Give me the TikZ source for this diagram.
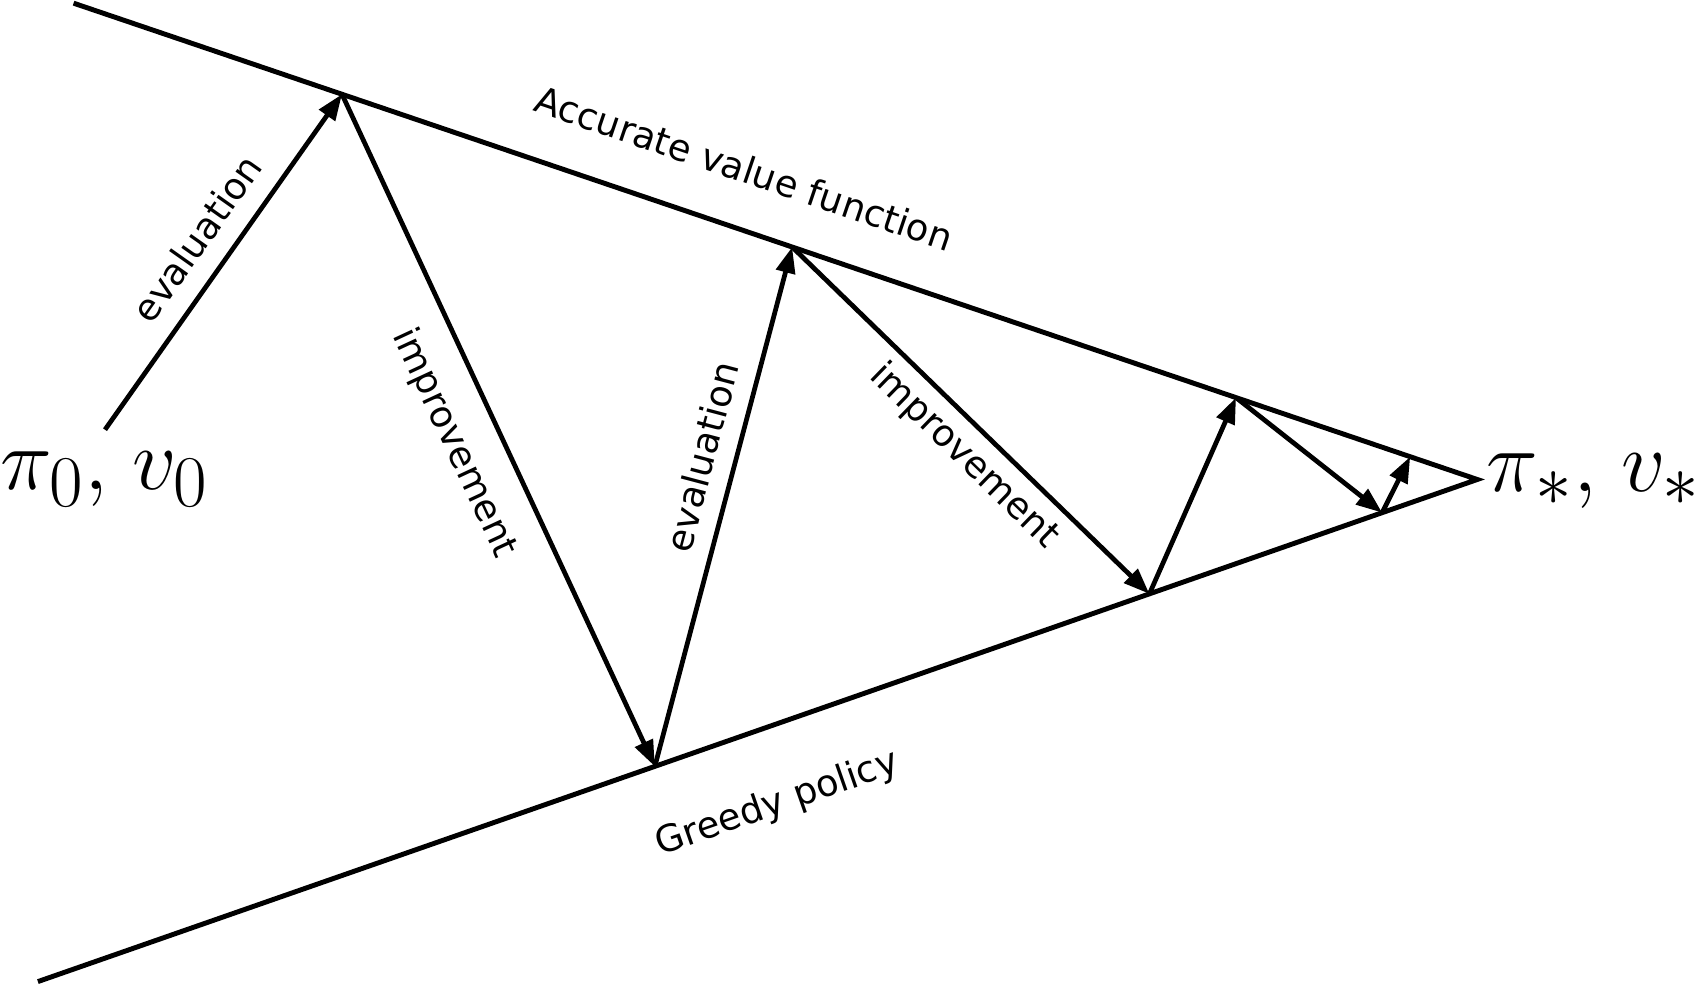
\documentclass[tikz,border=0pt]{standalone}
\usepackage{amsmath}
\usepackage{fontspec}
\newfontfamily\labelfont{DejaVu Sans}
\DeclareMathSizes{30}{30}{22}{16}
\usepackage{tikz}
\usetikzlibrary{calc, arrows.meta}
\tikzstyle{bound} = [line width=1.4pt]
\tikzstyle{move} = [line width=1.35pt, -{Triangle[length=2.6mm, width=1.9mm]}]
\tikzstyle{lbl} = [font=\labelfont\fontsize{10.5}{12}\selectfont, inner sep=0pt]
\tikzstyle{pilbl} = [font=\fontsize{30}{33}\selectfont, inner sep=0pt, anchor=base west]

\begin{document}
\begin{tikzpicture}
        \useasboundingbox (0, 0) rectangle (16.97, 9.85);

        % the two bounding lines meeting at the optimum
        \coordinate (U0) at (0.736, 9.818);
        \coordinate (L0) at (0.379, 0.034);
        \coordinate (A) at (14.773, 5.055);
        \coordinate (S) at (1.050, 5.553);

        \coordinate (P1) at ($(U0)!0.1912!(A)$);
        \coordinate (P2) at ($(U0)!0.5119!(A)$);
        \coordinate (P3) at ($(U0)!0.8281!(A)$);
        \coordinate (P4) at ($(U0)!0.9522!(A)$);
        \coordinate (Q1) at ($(L0)!0.4286!(A)$);
        \coordinate (Q2) at ($(L0)!0.7722!(A)$);
        \coordinate (Q3) at ($(L0)!0.9339!(A)$);

        \draw[bound] (U0) -- (A) -- (L0);

        \draw[move] (S) -- (P1);
        \draw[move] (P1) -- (Q1);
        \draw[move] (Q1) -- (P2);
        \draw[move] (P2) -- (Q2);
        \draw[move] (Q2) -- (P3);
        \draw[move] (P3) -- (Q3);
        \draw[move] (Q3) -- (P4);

        \node[pilbl] at (0.0, 4.95) (Start) {$\pi_0,\mkern2mu v_0$};
        \node[pilbl] at (14.86, 4.93) (Optimum) {$\pi_*,\mkern2mu v_*$};

        \node[lbl, rotate=-18.74] at (7.442, 8.167) (ValueLbl) {Accurate value function};
        \node[lbl, rotate=19.23] at (7.775, 1.81) (GreedyLbl) {Greedy policy};
        \node[lbl, rotate=54.76] at (1.967, 7.467) (EvalA) {evaluation};
        \node[lbl, rotate=-65.05] at (4.54, 5.42) (ImprA) {improvement};
        \node[lbl, rotate=75.19] at (7.017, 5.283) (EvalB) {evaluation};
        \node[lbl, rotate=-44.18] at (9.64, 5.29) (ImprB) {improvement};
    \end{tikzpicture}
\end{document}
